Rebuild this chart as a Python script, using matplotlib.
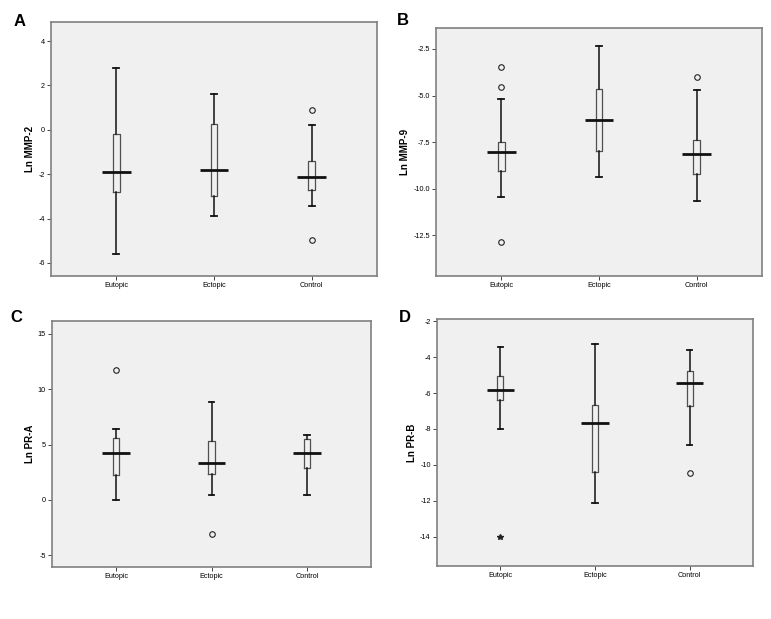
import matplotlib.pyplot as plt
import numpy as np

plt.rcParams['font.family'] = ['Liberation Sans', 'DejaVu Sans']

groups = ['Eutopic', 'Ectopic', 'Control']

# panel A - Ln MMP-2
mmp2_lo = [-5.58, -3.90, -3.45]
mmp2_q1 = [-2.82, -3.00, -2.73]
mmp2_med = [-1.90, -1.83, -2.14]
mmp2_q3 = [-0.19, 0.26, -1.42]
mmp2_hi = [2.78, 1.61, 0.22]
mmp2_out = [[], [], [0.88, -4.95]]
mmp2_ext = [[], [], []]

# panel B - Ln MMP-9
mmp9_lo = [-10.46, -9.36, -10.68]
mmp9_q1 = [-9.07, -8.00, -9.23]
mmp9_med = [-8.05, -6.29, -8.14]
mmp9_q3 = [-7.48, -4.63, -7.36]
mmp9_hi = [-5.20, -2.34, -4.68]
mmp9_out = [[-3.45, -4.54, -12.88], [], [-4.00]]
mmp9_ext = [[], [], []]

# panel C - Ln PR-A
pra_lo = [-0.03, 0.48, 0.43]
pra_q1 = [2.29, 2.38, 2.87]
pra_med = [4.28, 3.34, 4.26]
pra_q3 = [5.60, 5.33, 5.48]
pra_hi = [6.42, 8.80, 5.85]
pra_out = [[11.72], [-3.04], []]
pra_ext = [[], [], []]

# panel D - Ln PR-B
prb_lo = [-8.01, -12.14, -8.87]
prb_q1 = [-6.37, -10.41, -6.71]
prb_med = [-5.85, -7.69, -5.46]
prb_q3 = [-5.07, -6.65, -4.77]
prb_hi = [-3.45, -3.25, -3.60]
prb_out = [[], [], [-10.43]]
prb_ext = [[-14.04], [], []]

panels = [
    ('A', 'Ln MMP-2', mmp2_lo, mmp2_q1, mmp2_med, mmp2_q3, mmp2_hi, mmp2_out, mmp2_ext,
     (-6.59, 4.86), [-6, -4, -2, 0, 2, 4], '%d'),
    ('B', 'Ln MMP-9', mmp9_lo, mmp9_q1, mmp9_med, mmp9_q3, mmp9_hi, mmp9_out, mmp9_ext,
     (-14.68, -1.38), [-12.5, -10.0, -7.5, -5.0, -2.5], '%.1f'),
    ('C', 'Ln PR-A', pra_lo, pra_q1, pra_med, pra_q3, pra_hi, pra_out, pra_ext,
     (-6.05, 16.15), [-5, 0, 5, 10, 15], '%d'),
    ('D', 'Ln PR-B', prb_lo, prb_q1, prb_med, prb_q3, prb_hi, prb_out, prb_ext,
     (-15.64, -1.87), [-14, -12, -10, -8, -6, -4, -2], '%d'),
]

W, H = 771, 619
# axes boxes in pixels: left, right, top, bottom
boxes = [(51, 377, 22, 276), (436, 762, 28, 276), (52, 371, 321, 567), (437, 753, 319, 566)]
label_pos = [(14, 26), (397, 25), (10, 322), (399, 322)]

fig = plt.figure(figsize=(W / 100, H / 100), dpi=100)

for p, bx, lp in zip(panels, boxes, label_pos):
    letter, ylab, lo, q1, med, q3, hi, out, ext, ylim, yticks, fmt = p
    l, r, t, b = bx
    ax = fig.add_axes([l / W, 1 - b / H, (r - l) / W, (b - t) / H])
    ax.set_facecolor('#f0f0f0')
    stats = []
    for i in range(3):
        stats.append(dict(whislo=lo[i], q1=q1[i], med=med[i], q3=q3[i], whishi=hi[i],
                          fliers=out[i]))
    pos = [1, 2, 3]
    ax.bxp(stats, positions=pos, widths=0.065, showfliers=True,
           boxprops=dict(color='#505050', linewidth=0.9),
           whiskerprops=dict(color='#111111', linewidth=1.1),
           capprops=dict(color='#111111', linewidth=1.3),
           capwidths=0.06,
           medianprops=dict(linewidth=0),
           flierprops=dict(marker='o', markersize=4, markerfacecolor='none',
                           markeredgecolor='#222222', markeredgewidth=0.8))
    ax.hlines(med, np.array(pos) - 0.145, np.array(pos) + 0.145, color='#111111', linewidth=2)
    for i in range(3):
        if ext[i]:
            ax.plot([pos[i]] * len(ext[i]), ext[i], linestyle='none', marker='*',
                    markersize=4, color='#222222')
    ax.set_xlim(0.33, 3.67)
    ax.set_ylim(*ylim)
    ax.set_yticks(yticks)
    ax.set_yticklabels([fmt % v for v in yticks])
    ax.set_xticks(pos)
    ax.set_xticklabels(groups)
    ax.tick_params(labelsize=5.2, length=3, width=0.7, color='#444444', pad=1.5)
    for s in ax.spines.values():
        s.set_color('#808080')
        s.set_linewidth(1.2)
    ax.set_ylabel(ylab, fontsize=7, fontweight='bold', labelpad=2)
    fig.text(lp[0] / W, 1 - lp[1] / H, letter, fontsize=12, fontweight='bold',
             va='baseline', ha='left')

plt.savefig('out.png', dpi=100)
